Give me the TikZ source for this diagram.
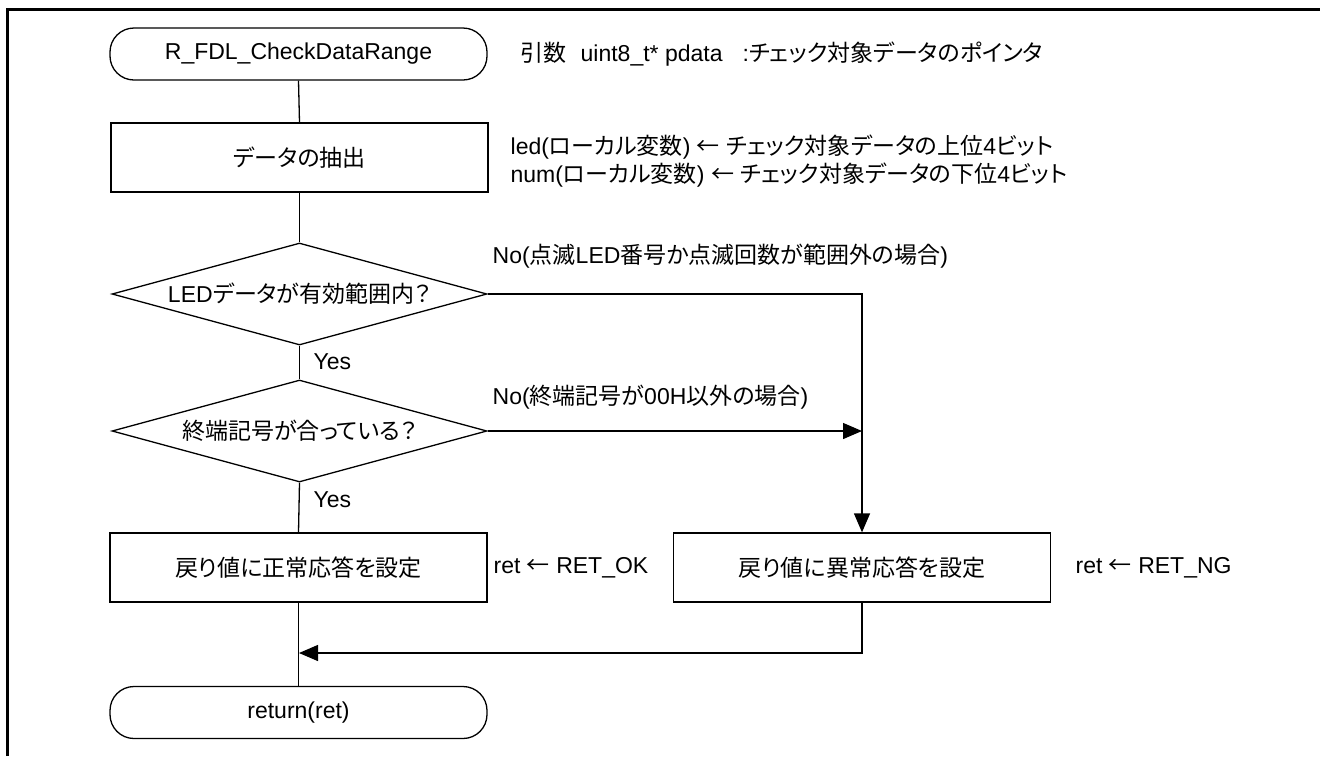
\documentclass[tikz,border=0pt]{standalone}
\usepackage{fontspec}
\setmainfont{Liberation Sans}
\newfontfamily\jp[RawFeature=+palt]{Noto Sans CJK JP}
\newfontfamily\jpf{Noto Sans CJK JP}
\usetikzlibrary{shapes.geometric,arrows.meta}
\begin{document}
\begin{tikzpicture}[x=1pt,y=-1pt,
  font=\fontsize{23}{28}\selectfont,
  line width=1.3pt,
  term/.style={draw, rounded corners=24pt, minimum width=377pt, minimum height=52pt, inner sep=0pt},
  proc/.style={draw, minimum width=377pt, minimum height=69pt, inner sep=0pt},
  dec/.style={draw, diamond, minimum width=375pt, minimum height=102pt, inner sep=0pt},
  note/.style={anchor=west, inner sep=0pt},
  arr/.style={-{Triangle[length=19pt,width=16pt]}},
  frame/.style={line width=3pt}]
\useasboundingbox (0,0) rectangle (1320,756);
\draw[frame] (7,756) -- (7,9) -- (1320,9);

\node[term] (start) at (298.5,54) {R\_FDL\_CheckDataRange};
\node[proc] (extract) at (299.5,157.5) {\jp データの抽出};
\node[dec, label=center:{LED{\jp データが有効範囲内？}}] (d1) at (299.5,294) {};
\node[dec, label=center:{{\jp 終端記号が合っている？}}] (d2) at (299.5,431) {};
\node[proc] (ok) at (298.5,567.5) {\jp 戻り値に正常応答を設定};
\node[proc] (ng) at (862,567.5) {\jp 戻り値に異常応答を設定};
\node[term] (ret) at (298.5,712.5) {return(ret)};

\node[note] (arg) at (520,54) {{\jp 引数}\hspace{14pt}uint8\_t* pdata\hspace{20pt}:{\jp チェック対象データのポインタ}};
\node[note] (led) at (510,147) {led({\jp ローカル変数}) {\jpf ←} {\jp チェック対象データの上位}4{\jp ビット}};
\node[note] (num) at (510,175) {num({\jp ローカル変数}) {\jpf ←} {\jp チェック対象データの下位}4{\jp ビット}};
\node[note] (no1) at (492,256) {No({\jp 点滅}LED{\jp 番号か点滅回数が範囲外の場合})};
\node[note] (no2) at (492,397) {No({\jp 終端記号が}00H{\jp 以外の場合})};
\node[note] (yes1) at (313,362) {Yes};
\node[note] (yes2) at (313,500) {Yes};
\node[note] (rok) at (493,567.5) {ret {\jpf ←} RET\_OK};
\node[note] (rng) at (1075,567.5) {ret {\jpf ←} RET\_NG};

\coordinate (merge) at (299,653);

\draw (start.south) -- (extract.north);
\draw (extract.south) -- (d1.north);
\draw (d1.south) -- (d2.north);
\draw (d2.south) -- (ok.north);
\draw (ok.south) -- (ret.north);
\draw[arr] (d1.east) -| (ng.north);
\draw[arr] (d2.east) -- (ng.north |- d2.east);
\draw[arr] (ng.south) |- (merge);
\end{tikzpicture}
\end{document}
